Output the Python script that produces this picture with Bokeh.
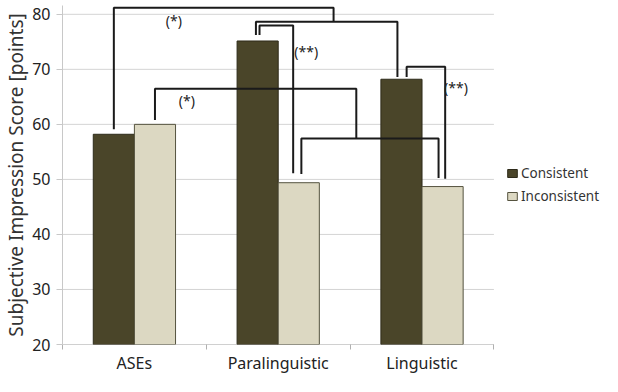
from bokeh.plotting import figure
from bokeh.models import Range1d, FixedTicker, Legend, LegendItem
from bokeh.core.properties import value
from bokeh.embed import file_html
from bokeh.resources import INLINE

# ---- data ----
categories = ["ASEs", "Paralinguistic", "Linguistic"]
consistent = [58.2, 75.15, 68.2]
inconsistent = [60.0, 49.4, 48.7]
y_ticks = [20, 30, 40, 50, 60, 70, 80]

# significance annotations
sig_labels = ["(*)", "(**)", "(**)", "(*)"]
sig_x = [0.774, 1.695, 2.736, 0.865]
sig_y = [78.9, 73.3, 66.7, 64.3]

FONT = "Noto Sans"
DARK = "#4a4529"
LIGHT = "#dcd8c2"
BAR_W = 0.286
OFF = 0.143
N = len(categories)

xc = [i + 0.5 - OFF for i in range(N)]
xi = [i + 0.5 + OFF for i in range(N)]

# frame extends to the right edge so that the legend can sit beside the bars
p = figure(width=602, height=376, x_range=Range1d(0, 3.755), y_range=Range1d(20, 81.6),
           output_backend="svg", toolbar_location=None,
           min_border_left=55, min_border_right=0, min_border_top=5, min_border_bottom=21)
p.outline_line_color = None
p.background_fill_color = "white"
p.border_fill_color = "white"

# horizontal grid lines limited to the category area
p.segment(x0=[0] * len(y_ticks), x1=[N] * len(y_ticks), y0=y_ticks, y1=y_ticks,
          line_color="#d4d4d4", line_width=1)
# x axis line
p.segment(x0=[0], x1=[N], y0=[y_ticks[0]], y1=[y_ticks[0]], line_color="#b8b8b8", line_width=1)

r_c = p.vbar(x=xc, top=consistent, bottom=20, width=BAR_W, fill_color=DARK,
             line_color="#2e2b1a", line_width=1)
r_i = p.vbar(x=xi, top=inconsistent, bottom=20, width=BAR_W, fill_color=LIGHT,
             line_color="#55533f", line_width=1)


def bracket(x1, y1, x2, y2, top):
    return [x1, x1, x2, x2], [y1, top, top, y2]

# bracket definitions: (left x, left bottom, right x, right bottom, top)
paths = [
    bracket(xc[0], 59.1, 1.885, 78.66, 81.18),
    bracket(xc[1] - 0.012, 76.26, xc[2] - 0.028, 68.6, 78.66),
    bracket(xc[1] + 0.013, 76.26, xi[1] - 0.039, 51.1, 77.96),
    bracket(xc[2] + 0.036, 68.6, xi[2] + 0.018, 50.1, 70.46),
    bracket(xi[0], 60.8, 2.043, 57.45, 66.47),
    bracket(xi[1] + 0.018, 51.0, xi[2] - 0.028, 50.25, 57.45),
]
p.multi_line(xs=[pp[0] for pp in paths], ys=[pp[1] for pp in paths],
             line_color="#1a1a1a", line_width=2)

p.text(x=sig_x, y=sig_y, text=sig_labels, text_align="center", text_baseline="middle",
       text_font=value(FONT), text_font_size="14px", text_color="#222222")

# axes
p.xaxis.ticker = FixedTicker(ticks=[i + 0.5 for i in range(N)],
                             minor_ticks=list(range(N + 1)))
p.xaxis.major_label_overrides = {i + 0.5: c for i, c in enumerate(categories)}
p.xaxis.major_tick_line_color = None
p.xaxis.minor_tick_out = 5
p.xaxis.minor_tick_in = 0
p.xaxis.minor_tick_line_color = "#b0b0b0"
p.xaxis.axis_line_color = None
p.xaxis.major_label_text_font = FONT
p.xaxis.major_label_text_font_size = "16px"
p.xaxis.major_label_text_color = "#222222"
p.xaxis.major_label_standoff = 1

p.yaxis.ticker = FixedTicker(ticks=y_ticks)
p.yaxis.minor_tick_line_color = None
p.yaxis.major_tick_out = 6
p.yaxis.major_tick_in = 0
p.yaxis.major_tick_line_color = "#c8c8c8"
p.yaxis.axis_line_color = "#c8c8c8"
p.yaxis.major_label_text_font = FONT
p.yaxis.major_label_text_font_size = "16px"
p.yaxis.major_label_text_color = "#222222"
p.yaxis.major_label_standoff = 6
p.yaxis.axis_label = "Subjective Impression Score [points]"
p.yaxis.axis_label_text_font = FONT
p.yaxis.axis_label_text_font_size = "19px"
p.yaxis.axis_label_text_font_style = "normal"
p.yaxis.axis_label_text_color = "#333333"
p.yaxis.axis_label_standoff = 0

p.xgrid.visible = False
p.ygrid.visible = False

legend = Legend(items=[LegendItem(label="Consistent", renderers=[r_c]),
                       LegendItem(label="Inconsistent", renderers=[r_i])],
                location=(444, 138))
legend.border_line_color = None
legend.background_fill_alpha = 0
legend.padding = 0
legend.margin = 0
legend.spacing = 3
legend.glyph_width = 12
legend.glyph_height = 10
legend.label_height = 20
legend.label_standoff = 3
legend.label_text_font = FONT
legend.label_text_font_size = "13.5px"
legend.label_text_color = "#333333"
p.add_layout(legend)

open("out.html", "w").write(file_html(p, INLINE))
